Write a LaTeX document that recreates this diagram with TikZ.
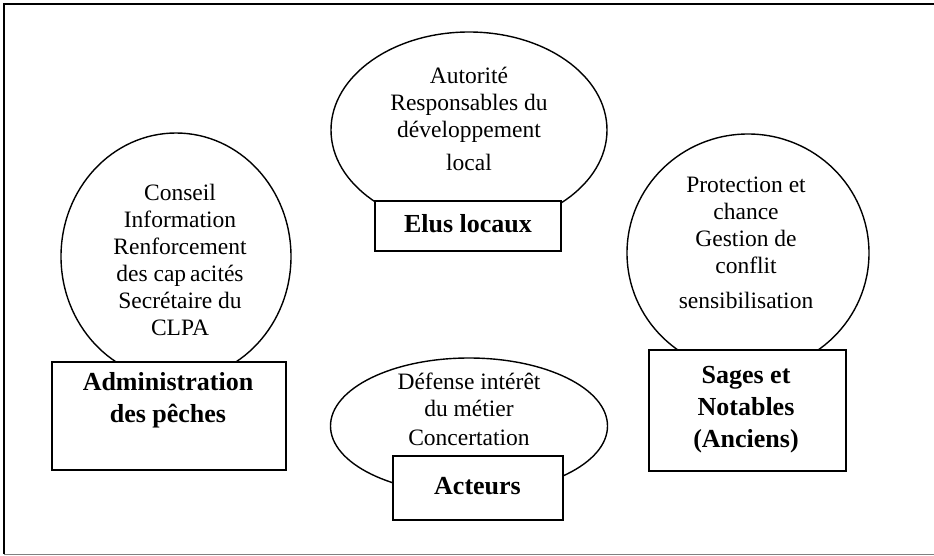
\documentclass[tikz,border=0pt]{standalone}
\usepackage{fontspec}
\setmainfont{Liberation Serif}
\usetikzlibrary{shapes.geometric}
\begin{document}
\begin{tikzpicture}[x=1pt,y=-1pt,
  bubble/.style={draw, ellipse, line width=1.4pt, fill=white, inner sep=0pt},
  rolebox/.style={draw, rectangle, line width=1.4pt, fill=white, inner sep=0pt},
  rolelabel/.style={inner sep=0pt, align=center, font=\fontsize{26}{32}\selectfont\bfseries},
  say/.style={inner sep=0pt, align=center, font=\fontsize{23.5}{27}\selectfont}]
\useasboundingbox (0,0) rectangle (934,556);

% outer frame
\coordinate (fTL) at (4,4);
\coordinate (fTR) at (934,4);
\coordinate (fBL) at (4,554);
\coordinate (fBR) at (934,554);
\draw[gray, line width=1pt] (fBL) -- (fBR);
\draw[black, line width=2pt] (fBL) -- (fTL) -- (fTR);

% Elus locaux
\node[bubble, minimum width=276, minimum height=196] (elusbubble) at (469,130) {};
\node[say] (elustext) at (469,119) {Autorité\\Responsables du\\développement\\[6pt]local};
\node[rolebox, minimum width=186, minimum height=50] (elusbox) at (468,226) {};
\node[rolelabel] (eluslabel) at (468,224) {Elus locaux};

% Administration des pêches
\node[bubble, minimum width=230, minimum height=247] (adminbubble) at (176,256.5) {};
\node[say] (admintext) at (180,260) {Conseil\\Information\\Renforcement\\des cap\,acités\\Secrétaire du\\CLPA};
\node[rolebox, minimum width=234, minimum height=108] (adminbox) at (169,416) {};
\node[rolelabel] (adminlabel) at (168,400) {Administration\\des pêches};

% Sages et Notables
\node[bubble, minimum width=242, minimum height=238] (sagesbubble) at (748,253) {};
\node[say] (sagestext) at (746,243) {Protection et\\chance\\Gestion de\\conflit\\[8pt]sensibilisation};
\node[rolebox, minimum width=197, minimum height=121] (sagesbox) at (747.5,410.5) {};
\node[rolelabel] (sageslabel) at (746,410) {Sages et\\Notables\\(Anciens)};

% Acteurs
\node[bubble, minimum width=277, minimum height=136] (acteursbubble) at (469,426) {};
\node[say] (acteurstext) at (469,409) {Défense intérêt\\du métier\\[2pt]Concertation};
\node[rolebox, minimum width=170, minimum height=64] (acteursbox) at (478,488) {};
\node[rolelabel] (acteurslabel) at (477.5,486) {Acteurs};
\end{tikzpicture}
\end{document}
